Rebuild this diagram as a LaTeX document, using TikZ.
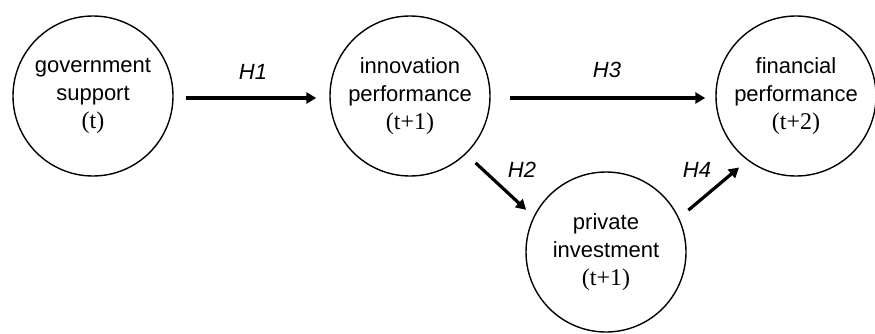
\documentclass[tikz,border=0pt]{standalone}
\usepackage{fontspec}
\setmainfont{Liberation Sans}
\newfontfamily\serifpart{Liberation Serif}
\usetikzlibrary{arrows.meta}
\tikzset{
  stage/.style={circle, draw=black, line width=1.4pt, minimum size=160pt, inner sep=0pt,
    align=center, font=\fontsize{22}{28}\selectfont},
  hyp/.style={-{Triangle[length=10pt,width=11pt]}, line width=3.2pt, black},
  hlabel/.style={font=\fontsize{22}{26}\selectfont\itshape, inner sep=0pt}
}
\newcommand{\tper}[1]{{\serifpart\fontsize{24}{28}\selectfont #1}}
\begin{document}
\begin{tikzpicture}[x=1pt,y=-1pt]
\useasboundingbox (0,0) rectangle (875,333);
\node[stage] (gov) at (93,96) {government\\support\\\tper{(t)}};
\node[stage] (inn) at (410,96) {innovation\\performance\\\tper{(t+1)}};
\node[stage] (fin) at (796,96) {financial\\performance\\\tper{(t+2)}};
\node[stage] (priv) at (606,252) {private\\investment\\\tper{(t+1)}};
\draw[hyp, shorten <=12pt, shorten >=13pt] ([yshift=-2pt]gov.east) -- ([yshift=-2pt]inn.west);
\draw[hyp, shorten <=19pt, shorten >=10pt] ([yshift=-2pt]inn.east) -- ([yshift=-2pt]fin.west);
\draw[hyp, shorten <=13pt, shorten >=10pt] (inn.-46) -- (priv.154);
\draw[hyp, shorten <=12pt, shorten >=11pt] (priv.25) -- (fin.233);
\node[hlabel] (h1) at (253,72) {H1};
\node[hlabel] (h3) at (607,70) {H3};
\node[hlabel] (h2) at (522,170) {H2};
\node[hlabel] (h4) at (697,170) {H4};
\end{tikzpicture}
\end{document}
